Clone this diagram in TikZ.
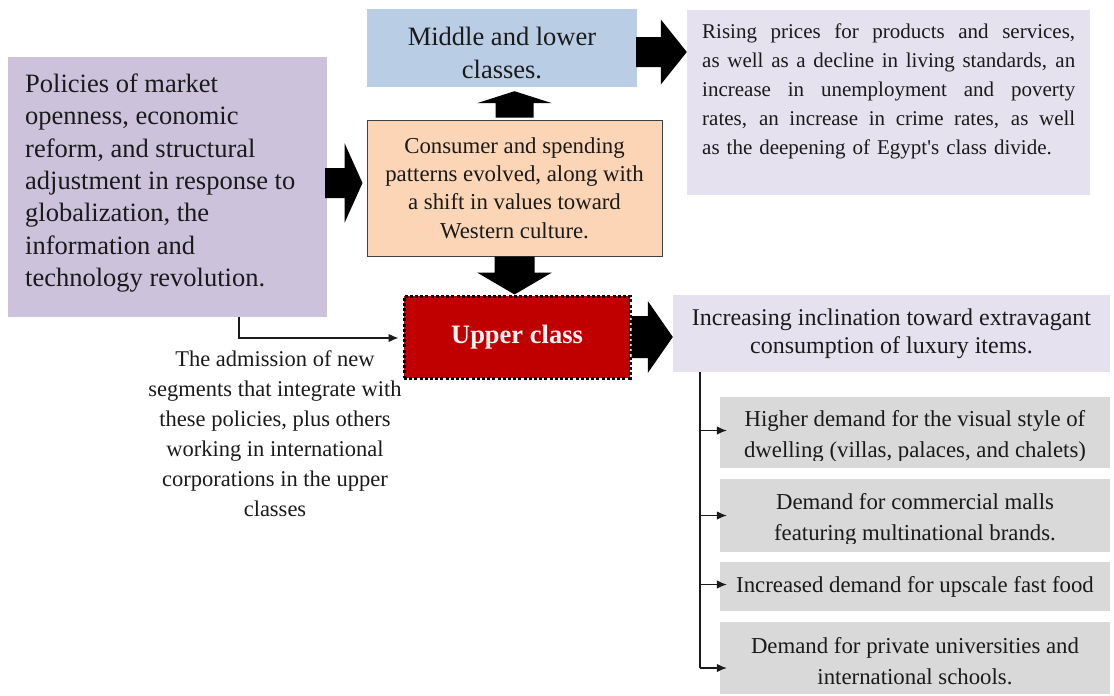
\documentclass[tikz,border=0pt]{standalone}
\usepackage{fontspec}
\setmainfont{Liberation Serif}
\usetikzlibrary{calc,arrows.meta}

\definecolor{ink}{HTML}{1A1A1A}
\definecolor{policyfill}{HTML}{CCC2DC}
\definecolor{classfill}{HTML}{B9CDE5}
\definecolor{effectfill}{HTML}{E6E1EE}
\definecolor{patternfill}{HTML}{FBD5B5}
\definecolor{patternedge}{HTML}{404040}
\definecolor{upperfill}{HTML}{C00000}
\definecolor{upperink}{HTML}{FFF2F2}
\definecolor{demandfill}{HTML}{D9D9D9}

% thick block arrow: #1 tail, #2 tip, #3 shaft half-width, #4 head half-width, #5 head length
\newcommand\fatarrow[5]{%
  \coordinate (fa-head) at ($(#2)!#5!(#1)$);
  \fill[black] ($(#1)!#3!90:(#2)$) -- ($(fa-head)!#3!90:(#2)$) -- ($(fa-head)!#4!90:(#2)$)
    -- (#2) -- ($(fa-head)!#4!-90:(#2)$) -- ($(fa-head)!#3!-90:(#2)$)
    -- ($(#1)!#3!-90:(#2)$) -- cycle;}

% one fully justified line of the effects paragraph
\newcommand\justline[1]{\leavevmode\hbox to 373pt{\spaceskip=0pt\xspaceskip=0pt\relax #1}}

\begin{document}
\begin{tikzpicture}[x=1pt,y=-1pt,
  box/.style={rectangle, inner sep=0pt, text=ink},
  demand/.style={box, fill=demandfill, minimum width=390pt, align=center,
    font=\fontsize{22.8}{30}\selectfont},
  demandtext/.style={align=center, inner sep=0pt, text=ink, font=\fontsize{22.8}{31}\selectfont},
  link/.style={draw=ink, line width=1.2pt, -{Latex[length=10pt,width=8.5pt]}},
  plainline/.style={draw=ink, line width=1.2pt}]
\useasboundingbox (0,0) rectangle (1114,696);

% policies
\node[box, fill=policyfill, minimum width=319pt, minimum height=260pt] (pol) at (167.5,187) {};
\node[anchor=west, align=left, inner sep=0pt, text=ink,
  font=\fontsize{26.5}{32.3}\selectfont] (poltext) at (25,183)
  {Policies of market\\openness, economic\\reform, and structural\\adjustment in response to\\globalization, the\\information and\\technology revolution.};

% middle and lower classes
\node[box, fill=classfill, minimum width=270pt, minimum height=78pt] (middle) at (502,48) {};
\node[align=center, inner sep=0pt, text=ink, font=\fontsize{26.5}{33}\selectfont]
  (middletext) at (502,52.5) {Middle and lower\\classes.};

% effects on middle and lower classes
\node[box, fill=effectfill, minimum width=403pt, minimum height=185pt] (rising) at (888.5,102.5) {};
\node[anchor=north west, align=left, inner sep=0pt, text=ink, text width=373pt,
  font=\fontsize{21}{28.9}\selectfont] (risingtext) at (702,23.7)
  {\justline{Rising prices for products and services,}\\
   \justline{as well as a decline in living standards, an}\\
   \justline{increase in unemployment and poverty}\\
   \justline{rates, an increase in crime rates, as well}\\
   as the deepening of Egypt\textquotesingle s class divide.};

% consumer patterns
\node[box, fill=patternfill, draw=patternedge, line width=1pt, minimum width=295pt,
  minimum height=136pt, align=center, font=\fontsize{22.8}{28.4}\selectfont] (cons) at (514.5,188)
  {Consumer and spending\\patterns evolved, along with\\a shift in values toward\\Western culture.};

% upper class
\node[rectangle, fill=upperfill, draw=black, line width=3pt, dash pattern=on 3pt off 2.2pt,
  minimum width=226pt, minimum height=82pt, text=upperink,
  font=\bfseries\fontsize{26.5}{30}\selectfont] (upper) at (517,337) {Upper class};

% upper-class inclination
\node[box, fill=effectfill, minimum width=437pt, minimum height=77pt, align=center,
  font=\fontsize{24}{28}\selectfont] (incr) at (891.5,333.5)
  {Increasing inclination toward extravagant\\consumption of luxury items.};

% demand boxes (the first two have their text frames cut short)
\node[demand, minimum height=71pt] (g1) at (915,432.5) {};
\begin{scope}
  \clip ($(g1.north west)$) rectangle ($(g1.south east)+(0,-7.5)$);
  \node[demandtext] (g1text) at (915,436.5)
    {Higher demand for the visual style of\\dwelling (villas, palaces, and chalets)};
\end{scope}
\node[demand, minimum height=73pt] (g2) at (915,515.5) {};
\begin{scope}
  \clip ($(g2.north west)$) rectangle ($(g2.south east)+(0,-8.5)$);
  \node[demandtext] (g2text) at (915,519)
    {Demand for commercial malls\\featuring multinational brands.};
\end{scope}
\node[demand, minimum height=49pt] (g3) at (915,586.5)
  {Increased demand for upscale fast food};
\node[demand, minimum height=72pt] (g4) at (915,658) {};
\node[demandtext] (g4text) at (915,661)
  {Demand for private universities and\\international schools.};

% new segments note
\node[align=center, inner sep=0pt, text=ink, font=\fontsize{22.5}{30}\selectfont] (admit) at (275,434)
  {The admission of new\\segments that integrate with\\these policies, plus others\\working in international\\corporations in the upper\\classes};

% block arrows
\coordinate (a1t) at ($(pol.east)+(-2,-4)$);
\coordinate (a1h) at ($(cons.west)+(-4,-5)$);
\fatarrow{a1t}{a1h}{15pt}{40pt}{18pt}
\coordinate (a2t) at ($(cons.north)+(0,-2)$);
\coordinate (a2h) at ($(cons.north |- middle.south)+(0,4)$);
\fatarrow{a2t}{a2h}{19pt}{37.5pt}{12pt}
\coordinate (a3t) at (cons.south);
\coordinate (a3h) at (cons.south |- upper.north);
\fatarrow{a3t}{a3h}{20pt}{37.5pt}{22pt}
\coordinate (a4t) at (upper.east);
\coordinate (a4h) at (incr.west |- upper.east);
\fatarrow{a4t}{a4h}{21pt}{36pt}{25pt}
\coordinate (a5t) at ($(middle.east)+(-1,4)$);
\coordinate (a5h) at ($(rising.west |- middle.east)+(0,4)$);
\fatarrow{a5t}{a5h}{15pt}{32.5pt}{26pt}

% thin connectors
\coordinate (elbow) at (239,338);
\draw[link] (pol.south -| elbow) |- ($(upper.west |- elbow)+(-4,0)$);

\coordinate (trunk) at (700,668);
\draw[plainline] (incr.south -| trunk) -- (trunk);
\draw[link] ($(trunk |- g1)+(0,-2)$) -- ($(g1.west)+(7,-2)$);
\draw[link] (trunk |- g2) -- ($(g2.west)+(7,0)$);
\draw[link] ($(trunk |- g3)+(0,-2)$) -- ($(g3.west)+(7,-2)$);
\draw[link] (trunk) -- ($(g4.west |- trunk)+(7,0)$);
\end{tikzpicture}
\end{document}
